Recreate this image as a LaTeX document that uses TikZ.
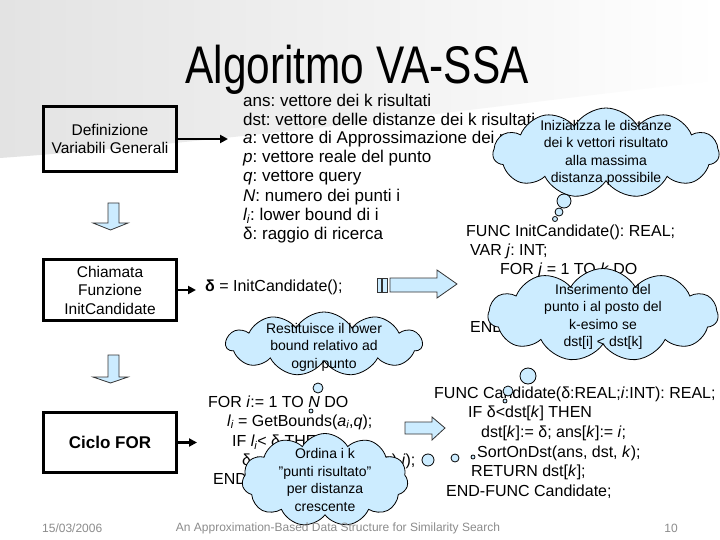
\documentclass[tikz,border=0pt]{standalone}
\usepackage{fontspec}
\setmainfont{Liberation Sans}
\newfontfamily\titlefont{Liberation Sans}[FakeStretch=0.8]
\usetikzlibrary{shapes.symbols,arrows.meta}
\definecolor{cloudblue}{RGB}{204,236,255}
\definecolor{footgray}{RGB}{140,140,140}
\tikzset{
  box/.style={draw, line width=3pt, minimum width=133pt, align=center, inner sep=0pt,
    font=\fontsize{15.5}{18.5}\selectfont},
  link/.style={line width=2.5pt, -{Triangle[length=8pt,width=8pt]}},
  txt/.style={anchor=west, inner sep=0pt, font=\fontsize{16}{19}\selectfont},
  thought/.style={cloud, cloud puffs=11, cloud puff arc=120, cloud ignores aspect,
    draw=black, line width=0.8pt, fill=cloudblue, inner sep=0pt},
  notetext/.style={align=center, inner sep=0pt, font=\fontsize{14}{17.5}\selectfont},
  bubble/.style={circle, draw=black, line width=0.8pt, fill=cloudblue, inner sep=0pt},
  blockarr/.style={draw=black!80, line width=0.8pt, fill=cloudblue},
  foot/.style={text=footgray, inner sep=0pt, font=\fontsize{12}{14}\selectfont}
}
\begin{document}
\frenchspacing
\begin{tikzpicture}[x=1pt,y=-1pt]
  \useasboundingbox (0,0) rectangle (720,540);
  \fill[white] (0,0) rectangle (720,540);
  % sfondo grigio in alto
  \shade[left color=gray!22, right color=white] (0,0) -- (720,0) -- (720,80)
    .. controls (500,105) and (250,140) .. (0,158) -- cycle;
  \node[anchor=base, inner sep=0pt, font=\fontsize{53}{56}\selectfont\titlefont] (title) at (357,84) {Algoritmo VA-SSA};

  % riquadri a sinistra
  \node[box, minimum height=65pt] (defbox) at (110,139) {Definizione\\Variabili Generali};
  \node[box, minimum height=61pt] (callbox) at (110,290) {Chiamata\\Funzione\\InitCandidate};
  \node[box, minimum height=60pt, font=\fontsize{17}{20}\selectfont\bfseries] (forbox) at (110,442.5) {Ciclo FOR};
  \draw[blockarr] (108,203) -- (119,203) -- (119,223) -- (128,223) -- (110.5,230) -- (93,223) -- (108,223) -- cycle;
  \draw[blockarr] (108,355) -- (119,355) -- (119,377) -- (128,377) -- (110.5,383) -- (93,377) -- (108,377) -- cycle;

  \coordinate (d1) at (228,139);
  \coordinate (d2) at (196,290);
  \coordinate (d3) at (197,442.5);
  \draw[link] (defbox.east) -- (d1);
  \draw[link] (callbox.east) -- (d2);
  \draw[link] (forbox.east) -- (d3);

  % variabili
  \foreach \t [count=\n] in {ans: vettore dei k risultati,
      dst: vettore delle distanze dei k risultati,
      \textit{a}: vettore di Approssimazione dei punti,
      \textit{p}: vettore reale del punto,
      \textit{q}: vettore query,
      \textit{N}: numero dei punti i,
      \textit{l\textsubscript{i}}: lower bound di i,
      δ: raggio di ricerca}
    \node[txt, font=\fontsize{17}{19}\selectfont] (var\n) at (243,81.5+19.2*\n) {\t};

  % InitCandidate
  \node[txt] (call) at (205,287) {\textbf{δ} = InitCandidate();};
  \node[txt] (ini1) at (466,232) {FUNC InitCandidate(): REAL;};
  \node[txt] (ini2) at (470,251) {VAR \textit{j}: INT;};
  \node[txt] (ini3) at (500,270) {FOR \textit{j} = 1 TO \textit{k} DO};
  \node[txt] (ini4) at (470,328) {END-FUNC InitCandidate;};
  \draw[blockarr] (377,278) rectangle (381,292);
  \draw[blockarr] (382,278) rectangle (387,292);
  \draw[blockarr] (390,278) -- (437,278) -- (437,270) -- (457,284) -- (437,298) -- (437,292) -- (390,292) -- cycle;

  % ciclo FOR
  \node[txt] (for1) at (208,402) {FOR \textit{i}:= 1 TO \textit{N} DO};
  \node[txt] (for2) at (227,422) {\textit{l\textsubscript{i}} = GetBounds(\textit{a\textsubscript{i}},\textit{q});};
  \node[txt] (for3) at (232,442) {IF \textit{l\textsubscript{i}}< δ THEN};
  \node[txt] (for4) at (242,461) {δ := Candidate(\textit{d}(\textit{p\textsubscript{i}},\textit{q}),\textit{i});};
  \node[txt] (for5) at (213,480) {END-FOR;};
  \draw[blockarr] (405,422) -- (432,422) -- (432,417) -- (445,428) -- (432,440) -- (432,434) -- (405,434) -- cycle;

  % Candidate
  \node[txt] (cand1) at (434,394) {FUNC Candidate(δ:REAL;\textit{i}:INT): REAL;};
  \node[txt] (cand2) at (468,413) {IF δ<dst[\textit{k}] THEN};
  \node[txt] (cand3) at (481,433) {dst[\textit{k}]:= δ; ans[\textit{k}]:= \textit{i};};
  \node[txt] (cand4) at (477,453) {SortOnDst(ans, dst, \textit{k});};
  \node[txt] (cand5) at (471,472) {RETURN dst[\textit{k}];};
  \node[txt] (cand6) at (446,492) {END-FUNC Candidate;};

  % nuvolette
  \node[thought, minimum width=226pt, minimum height=90pt] (initnote) at (606,153) {};
  \node[notetext] at (initnote.center) {Inizializza le distanze\\dei k vettori risultato\\alla massima\\distanza possibile};
  \node[bubble, minimum size=14pt] (ia) at (564,201) {};
  \node[bubble, minimum size=8pt] (ib) at (559,212) {};
  \node[bubble, minimum size=5pt] (ic) at (555,219) {};

  \node[thought, minimum width=230pt, minimum height=93pt] (insnote) at (603,315) {};
  \node[notetext] at ([yshift=-2pt]insnote.center) {Inserimento del\\punto i al posto del\\k-esimo se\\dst[i] < dst[k]};
  \node[bubble, minimum size=16pt] (sa) at (528,376) {};
  \node[bubble, minimum size=10pt] (sb) at (508,391) {};
  \node[bubble, minimum size=4pt] (sc) at (505,401) {};

  \node[thought, minimum width=196pt, minimum height=64pt] (boundnote) at (324,344) {};
  \node[notetext] at ([yshift=-3pt]boundnote.center) {Restituisce il lower\\bound relativo ad\\ogni punto};
  \node[bubble, minimum size=10pt] (ba) at (318,388) {};
  \node[bubble, minimum size=4pt] (bb) at (311,411) {};

  \node[thought, minimum width=166pt, minimum height=93pt] (sortnote) at (325,480) {};
  \node[notetext] at (sortnote.center) {Ordina i k\\"punti risultato"\\per distanza\\crescente};
  \node[bubble, minimum size=12pt] (oa) at (428,460) {};
  \node[bubble, minimum size=8pt] (ob) at (455,458) {};
  \node[bubble, minimum size=4pt] (oc) at (473,457) {};

  % pie di pagina
  \node[foot, anchor=west] (date) at (42,528) {15/03/2006};
  \node[foot] (subtitle) at (338,528) {An Approximation-Based Data Structure for Similarity Search};
  \node[foot] (page) at (671,528) {10};
\end{tikzpicture}
\end{document}
